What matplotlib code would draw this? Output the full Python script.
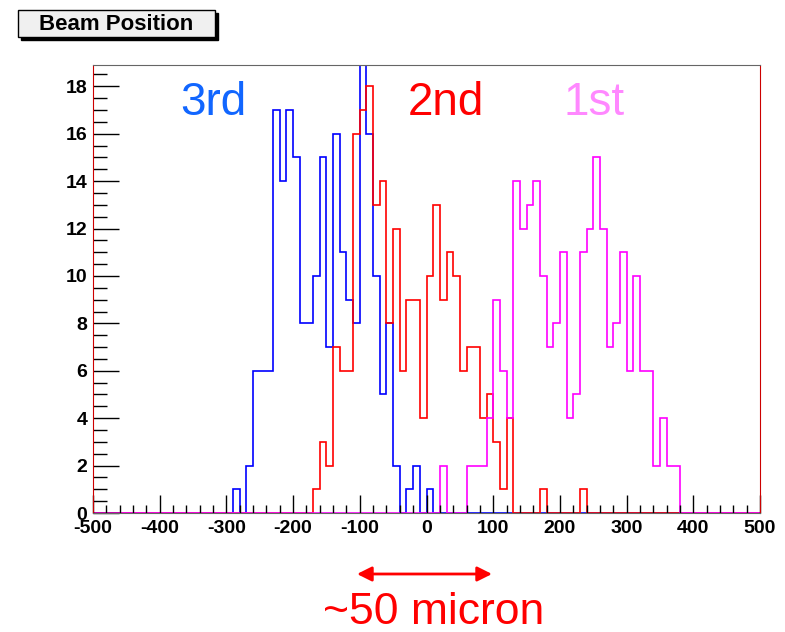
import numpy as np
import matplotlib
matplotlib.use("Agg")
import matplotlib.pyplot as plt
from matplotlib.patches import Rectangle

plt.rcParams['font.family'] = ['Liberation Sans', 'DejaVu Sans']
plt.rcParams['axes.unicode_minus'] = False

# bin edges: 100 bins of 10 micron from -500 to 500
x_min, x_max, bin_width = -500, 500, 10

# counts per bin, starting at the given lower edge
third_start = -290
third_counts = [1, 0, 2, 6, 6, 6, 17, 14, 17, 15, 8, 8, 10, 15, 7, 16, 11, 9, 8,
                20, 16, 10, 5, 8, 2, 0, 1, 2, 0, 1]
second_start = -170
second_counts = [1, 3, 2, 7, 6, 6, 16, 17, 18, 13, 14, 8, 12, 6, 9, 9, 4, 10, 13,
                 9, 11, 10, 6, 7, 7, 4, 5, 3, 1, 4, 0, 0, 0, 0, 1, 0, 0, 0, 0, 0, 1]
first_start = 20
first_counts = [2, 0, 0, 0, 2, 2, 2, 4, 9, 6, 4, 14, 12, 13, 14, 10, 7, 8, 11, 4,
                5, 11, 12, 15, 12, 7, 8, 11, 6, 10, 6, 6, 2, 4, 2, 2]

labels = ["3rd", "2nd", "1st"]


def full_hist(start, counts):
    edges = np.arange(x_min, x_max + bin_width, bin_width)
    vals = np.zeros(len(edges) - 1)
    i0 = (start - x_min) // bin_width
    vals[i0:i0 + len(counts)] = counts
    return edges, vals


fig = plt.figure(figsize=(7.85, 6.32), dpi=100)
ax = fig.add_axes([93 / 785, 1 - 513 / 632, (760 - 93) / 785, (513 - 65) / 632])

hists = [(third_start, third_counts, '#0000ff'),
         (second_start, second_counts, '#ff0000'),
         (first_start, first_counts, '#ff00ff')]
for start, counts, col in hists:
    edges, vals = full_hist(start, counts)
    ax.stairs(vals, edges, color=col, linewidth=1.2)

ax.set_xlim(x_min, x_max)
ax.set_ylim(0, 18.9)

ax.set_xticks(np.arange(-500, 501, 100))
ax.set_xticks(np.arange(-500, 501, 20), minor=True)
ax.set_yticks(np.arange(0, 19, 2))
ax.set_yticks(np.arange(0, 19, 0.5), minor=True)
ax.tick_params(which='both', direction='in', top=False, right=False,
               labelsize=14, color='black', width=1)
ax.tick_params(axis='y', which='major', length=19, pad=4)
ax.tick_params(axis='y', which='minor', length=10)
ax.tick_params(axis='x', which='major', length=13, pad=5)
ax.tick_params(axis='x', which='minor', length=6)
for lab in ax.get_xticklabels() + ax.get_yticklabels():
    lab.set_fontweight('bold')

ax.spines['top'].set_color('#666666')
ax.spines['bottom'].set_color('#666666')
ax.spines['left'].set_color('#cc0000')
ax.spines['right'].set_color('#cc0000')

# labels for each histogram
fig.text(213 / 785, 1 - 115 / 632, labels[0], color='#1166ff', fontsize=33,
         ha='center', va='baseline')
fig.text(446 / 785, 1 - 115 / 632, labels[1], color='#ff0000', fontsize=33,
         ha='center', va='baseline')
fig.text(594 / 785, 1 - 115 / 632, labels[2], color='#ff88ff', fontsize=33,
         ha='center', va='baseline')

# title box with shadow
fig.patches.append(Rectangle((21 / 785, 1 - 40 / 632), 197 / 785, 27 / 632,
                             transform=fig.transFigure, facecolor='black',
                             edgecolor='black', zorder=1))
fig.patches.append(Rectangle((18 / 785, 1 - 37 / 632), 197 / 785, 27 / 632,
                             transform=fig.transFigure, facecolor='#f0f0f0',
                             edgecolor='black', linewidth=1, zorder=2))
fig.text(116 / 785, 1 - 24 / 632, "Beam Position", fontsize=16, fontweight='bold',
         ha='center', va='center', zorder=3)

# arrow and annotation
ax.annotate('', xy=(492 / 785, 1 - 574 / 632), xytext=(357 / 785, 1 - 574 / 632),
            xycoords='figure fraction', textcoords='figure fraction',
            arrowprops=dict(arrowstyle='<|-|>', color='#ff0000', lw=2,
                            mutation_scale=22, shrinkA=0, shrinkB=0),
            annotation_clip=False)
fig.text(434 / 785, 1 - 624 / 632, "~50 micron", color='#ff0000', fontsize=32,
         ha='center', va='baseline')

fig.savefig("out.png", dpi=100)
